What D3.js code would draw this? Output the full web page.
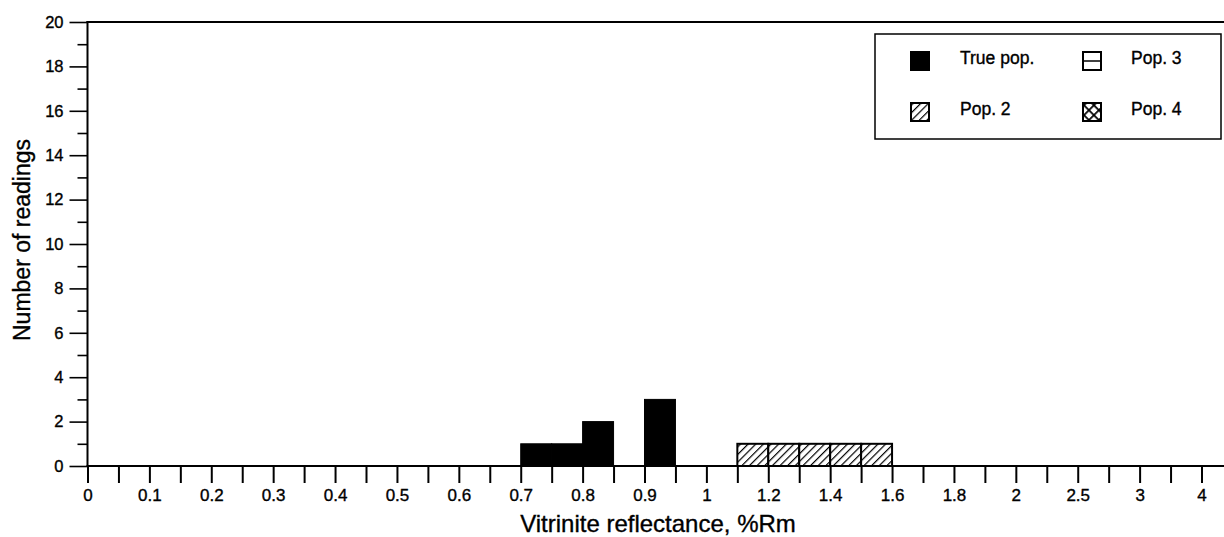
<!DOCTYPE html>
<html>
<head>
<meta charset="utf-8">
<script src="https://cdn.jsdelivr.net/npm/d3@7/dist/d3.min.js"></script>
<style>
  html, body { margin: 0; padding: 0; background: #fff; }
  svg { display: block; }
  svg text { font-family: "Liberation Sans", Arial, Helvetica, sans-serif; stroke: #000; stroke-width: 0.35px; }
</style>
</head>
<body>
<svg id="chart" width="1224" height="537"></svg>
<script>
// Bin edges along the reflectance axis (every edge gets a tick, evenly spaced)
const binEdges = [0, 0.05, 0.1, 0.15, 0.2, 0.25, 0.3, 0.35, 0.4, 0.45, 0.5, 0.55,
  0.6, 0.65, 0.7, 0.75, 0.8, 0.85, 0.9, 0.95, 1, 1.1, 1.2, 1.3, 1.4, 1.5, 1.6,
  1.7, 1.8, 1.9, 2, 2.25, 2.5, 2.75, 3, 3.5, 4];
// Edges that carry a text label
const xTickLabels = [0, 0.1, 0.2, 0.3, 0.4, 0.5, 0.6, 0.7, 0.8, 0.9, 1,
  1.2, 1.4, 1.6, 1.8, 2, 2.5, 3, 4];
const yTicks = d3.range(0, 21, 1);

// True population histogram
const truePopLow   = [0.70, 0.75, 0.80, 0.90];
const truePopHigh  = [0.75, 0.80, 0.85, 0.95];
const truePopCount = [1, 1, 2, 3];

// Population 2 histogram
const pop2Low   = [1.1, 1.2, 1.3, 1.4, 1.5];
const pop2High  = [1.2, 1.3, 1.4, 1.5, 1.6];
const pop2Count = [1, 1, 1, 1, 1];

const legendLabels = ["True pop.", "Pop. 3", "Pop. 2", "Pop. 4"];

const svg = d3.select("#chart");
const plotLeft = 87.5, plotRight = 1201.5, plotTop = 22, plotBottom = 466;

// Piecewise scale so each bin edge falls on an evenly spaced tick
const x = d3.scaleLinear()
  .domain(binEdges)
  .range(binEdges.map((_, i) => plotLeft + (plotRight - plotLeft) * i / (binEdges.length - 1)));
const y = d3.scaleLinear().domain([0, 20]).range([plotBottom, plotTop]);

// Patterns
const defs = svg.append("defs");
const hatch = defs.append("pattern")
  .attr("id", "hatch").attr("patternUnits", "userSpaceOnUse")
  .attr("width", 5.4).attr("height", 5.4)
  .attr("patternTransform", "rotate(45)");
hatch.append("rect").attr("width", 5.4).attr("height", 5.4).attr("fill", "#fff");
hatch.append("line").attr("x1", 0).attr("y1", 0).attr("x2", 0).attr("y2", 5.4)
  .attr("stroke", "#000").attr("stroke-width", 2.4);

const cross = defs.append("pattern")
  .attr("id", "cross").attr("patternUnits", "userSpaceOnUse")
  .attr("width", 7).attr("height", 7)
  .attr("patternTransform", "rotate(45)");
cross.append("rect").attr("width", 7).attr("height", 7).attr("fill", "#fff");
cross.append("line").attr("x1", 0).attr("y1", 0).attr("x2", 0).attr("y2", 7)
  .attr("stroke", "#000").attr("stroke-width", 3.5);
cross.append("line").attr("x1", 0).attr("y1", 0).attr("x2", 7).attr("y2", 0)
  .attr("stroke", "#000").attr("stroke-width", 3.5);

// Bars
const trueData = truePopLow.map((d, i) => ({ lo: d, hi: truePopHigh[i], n: truePopCount[i] }));
const pop2Data = pop2Low.map((d, i) => ({ lo: d, hi: pop2High[i], n: pop2Count[i] }));

svg.append("g").selectAll("rect").data(trueData).join("rect")
  .attr("x", d => x(d.lo)).attr("width", d => x(d.hi) - x(d.lo))
  .attr("y", d => y(d.n)).attr("height", d => y(0) - y(d.n))
  .attr("fill", "#000").attr("stroke", "#000").attr("stroke-width", 1);

svg.append("g").selectAll("rect").data(pop2Data).join("rect")
  .attr("x", d => x(d.lo)).attr("width", d => x(d.hi) - x(d.lo))
  .attr("y", d => y(d.n)).attr("height", d => y(0) - y(d.n))
  .attr("fill", "url(#hatch)").attr("stroke", "#000").attr("stroke-width", 2);

// X axis
const xAxis = d3.axisBottom(x)
  .tickValues(binEdges)
  .tickSize(17).tickPadding(6)
  .tickFormat(d => xTickLabels.includes(d) ? d3.format("")(d) : "");
const gx = svg.append("g").attr("transform", `translate(0,${plotBottom})`).call(xAxis)
  .attr("font-family", null).attr("font-size", 17);
gx.select(".domain").remove();
gx.selectAll(".tick line").attr("stroke", "#000").attr("stroke-width", 2);
gx.selectAll(".tick text").attr("fill", "#000");
svg.append("line").attr("x1", plotLeft - 1).attr("x2", 1224)
  .attr("y1", plotBottom).attr("y2", plotBottom).attr("stroke", "#000").attr("stroke-width", 2);

// Y axis: long ticks on even counts (labelled), short ticks on odd counts
const yAxis = d3.axisLeft(y)
  .tickValues(yTicks)
  .tickSize(0).tickPadding(24)
  .tickFormat(d => d % 2 === 0 ? d : "");
const gy = svg.append("g").attr("transform", `translate(${plotLeft},0)`).call(yAxis)
  .attr("font-family", null).attr("font-size", 16.5);
gy.select(".domain").remove();
gy.selectAll(".tick line")
  .attr("x2", d => d % 2 === 0 ? -18 : -10)
  .attr("stroke", "#000").attr("stroke-width", 1.6);
gy.selectAll(".tick text").attr("fill", "#000");
svg.append("line").attr("x1", plotLeft).attr("x2", plotLeft)
  .attr("y1", plotTop - 1).attr("y2", plotBottom).attr("stroke", "#000").attr("stroke-width", 2);

// Top frame line
svg.append("line").attr("x1", plotLeft - 1).attr("x2", 1224)
  .attr("y1", plotTop).attr("y2", plotTop).attr("stroke", "#000").attr("stroke-width", 2);

// Axis titles
svg.append("text").attr("x", 658).attr("y", 532).attr("text-anchor", "middle")
  .attr("font-size", 24).text("Vitrinite reflectance, %Rm");
svg.append("text").attr("transform", "translate(30,240) rotate(-90)")
  .attr("text-anchor", "middle").attr("font-size", 23).text("Number of readings");

// Legend
const lg = svg.append("g");
lg.append("rect").attr("x", 875).attr("y", 34).attr("width", 346).attr("height", 105)
  .attr("fill", "#fff").attr("stroke", "#000").attr("stroke-width", 1.5);
const legendItems = [
  { label: legendLabels[0], ix: 911, tx: 960, cy: 61, kind: "solid" },
  { label: legendLabels[1], ix: 1083, tx: 1131, cy: 61, kind: "line" },
  { label: legendLabels[2], ix: 911, tx: 960, cy: 112, kind: "hatch" },
  { label: legendLabels[3], ix: 1083, tx: 1131, cy: 112, kind: "cross" }
];
legendItems.forEach(it => {
  const s = 18;
  const r = lg.append("rect").attr("x", it.ix).attr("y", it.cy - s / 2)
    .attr("width", s).attr("height", s).attr("stroke", "#000").attr("stroke-width", 2);
  if (it.kind === "solid") r.attr("fill", "#000");
  else if (it.kind === "hatch") r.attr("fill", "url(#hatch)");
  else if (it.kind === "cross") r.attr("fill", "url(#cross)");
  else {
    r.attr("fill", "#fff");
    lg.append("line").attr("x1", it.ix).attr("x2", it.ix + s)
      .attr("y1", it.cy).attr("y2", it.cy).attr("stroke", "#000").attr("stroke-width", 1.5);
  }
  lg.append("text").attr("x", it.tx).attr("y", it.cy + 3).attr("font-size", 17.5)
    .text(it.label);
});
</script>
</body>
</html>
